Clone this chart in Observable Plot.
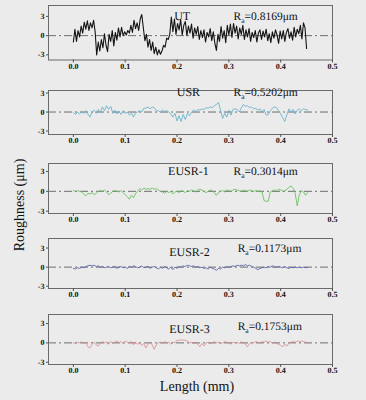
<!DOCTYPE html>
<html><head><meta charset="utf-8">
<script src="https://cdn.jsdelivr.net/npm/d3@7"></script>
<script src="https://cdn.jsdelivr.net/npm/@observablehq/plot@0.6"></script>
<style>
html,body{margin:0;padding:0;background:#ebebeb;}
#chart{position:relative;width:366px;height:400px;background:#ebebeb;font-family:"Liberation Serif","DejaVu Serif",serif;color:#111;overflow:hidden;}
.panel{position:absolute;left:0;text-rendering:geometricPrecision;-webkit-font-smoothing:antialiased;}
.panel text{fill:#111;}
.ylab{position:absolute;left:20px;top:205px;transform:translate(-50%,-50%) rotate(-90deg);font-size:14px;white-space:nowrap;}
.xlab{position:absolute;left:197px;top:387px;transform:translate(-50%,-50%);font-size:14px;white-space:nowrap;}
</style>
</head><body>
<div id="chart"></div>
<script>
// ---- data ----
const sampleNames = ["UT", "USR", "EUSR-1", "EUSR-2", "EUSR-3"];
const raValues = ["0.8169", "0.5202", "0.3014", "0.1173", "0.1753"];
const sampleSteps = [0.003, 0.004, 0.004, 0.004, 0.004]; // mm between profile samples
const xTicks = [0.0, 0.1, 0.2, 0.3, 0.4, 0.5];
const yTicks = [-3, 0, 3];

const utProfile = [
 -1.0, 1.0, -0.9, 0.8, -0.2, 1.5, 0.4, 2.1, 1.0, 2.3, 0.8, 2.0, 1.2, 2.4, 0.6,
 -3.0,
 -1.0, -2.4, -0.6, -1.9, 0.3, -1.5, -2.5, 0.2, -0.9, 0.8, -1.6, 0.5, -0.7, 1.2,
 -0.2, 1.3, 0.0, 0.6, 0.1, 0.8, 0.4,
  1.6, 0.5, 2.4, 1.1, 2.0, 0.8, 2.6, 3.3,
  1.2, -0.8, 0.2,
 -1.8, -0.6, -2.3, -1.0, -2.8, -1.8, -3.0, -2.2, -2.9, -2.4, -1.5, -1.8,
 -0.4, -0.6, 0.2,
  2.9,
  0.6, 2.6, 0.2, 1.9, 0.9, 2.5, 0.1, 1.6, 2.2, 0.0, 1.5, 0.4, 1.8, -0.4, 1.2, 0.2, 1.4,
 -0.6, 0.8, -0.3, 0.9, -1.0, 0.5, -0.2, 1.1, -0.8, 0.6, -1.2, -2.3,
  0.2, -0.9, 1.4, -0.4, 0.8, -1.1, 1.6, 0.1, 1.8, -0.3, 1.9, 0.4, 1.5,
 -0.5, 1.2, 0.2, 1.6, -0.6, 0.9, -0.2, 1.1, -0.9, 0.5,
 -0.3, 0.8, -1.0, 0.4, 0.9, -0.6, 0.7, -0.2, 1.0, -0.8,
  0.3, -1.1, 0.6, -0.4, 0.9, 0.1, -1.2, 0.7, -0.5, 0.8,
 -0.9, 0.5, 1.1, -0.4, 0.6,
 -0.7, 1.3, -0.2, 1.0, 0.3, 1.6, -0.5, 2.0, 1.2, -2.0
];
const usrProfile = [
 -0.1, -0.4, 0.0, -0.3, 0.1, -0.2, 0.2, -0.3, -0.8, 0.0,
  0.3, -0.2, 0.4, -0.1, 0.8, 0.2, 1.0, 0.4, 0.9, -0.2,
  0.3, -0.3, 0.1, -0.4, 0.2, -0.2, 0.0, -0.5, -0.2, -0.8,
 -0.1, 0.0, 0.2, 0.0, 0.6, 0.6, 0.8, 0.5, 0.8, 0.7,
  0.2, 0.2, 0.0, 0.3, 0.1, 0.2, 0.0, -0.3, -0.8, -0.2,
 -1.4, -0.6, -1.5, -0.4, -1.2, -0.2, -0.6, 0.0, 0.3, 0.1,
  0.4, 0.3, 0.5, 0.4, 0.7, 0.6, 0.8, 0.7, 1.0, 1.2,
  1.5, 0.3, -1.0, -0.2, -0.8, 0.3, -0.5, 0.4, 0.5, 0.4,
  0.0, 0.6, 1.2, 0.9, 1.0, 0.7, 0.8, 0.5, 0.6, 0.3,
  0.5, 0.0, 0.4, -0.5, -0.4, 0.2, 0.6, 0.8, 0.7, 0.2,
 -0.3, -0.9, -1.5, -0.4, 0.5, 0.0, 0.4, -0.3, 0.3, 0.5,
  0.2, 0.5, 0.4, 0.3
];
const eusr1Profile = [
  0.1, 0.0, 0.1, 0.0, -0.1, -0.4, -0.7, -0.3, -0.4, -0.2,
 -0.5, -0.3, 0.0, 0.1, 0.0, 0.2, -0.1, -0.5, -0.3, 0.0,
  0.1, 0.0, -0.1, 0.1, -0.2, -0.5, -0.8, -1.2, -0.6, -1.0,
 -0.3, 0.0, 0.4, 0.2, 0.5, 0.3, 0.4, 0.3, 0.5, 0.3,
  0.4, 0.2, 0.0, -0.1, -0.3, 0.0, -0.2, 0.0, -0.4, -0.1,
  0.0, -0.2, 0.1, 0.0, -0.2, 0.1, 0.0, 0.2, 0.1, -0.1,
  0.2, 0.3, 0.2, 0.0, -0.2, 0.0, 0.2, 0.1, -0.2, -0.6,
 -0.2, 0.0, 0.1, -0.1, 0.2, 0.1, 0.0, 0.2, 0.3, 0.2,
  0.1, 0.0, 0.2, 0.1, 0.0, 0.2, 0.1, 0.0, 0.1, 0.0,
  0.1, -0.1, -1.4, -1.5, -1.5, -0.1, 0.1, 0.2, 0.1, 0.3,
  0.2, 0.0, 0.1, 0.3, 0.6, 0.8, 0.5, -0.3, -2.2, -0.5,
  0.1, -0.1, -0.6, -0.2
];
const eusr2Profile = [
 -0.2, -0.3, -0.1, -0.2, 0.0, -0.1, 0.1, 0.2, 0.3, 0.2,
  0.3, 0.1, 0.2, 0.0, 0.1, -0.1, 0.0, 0.1, -0.1, 0.0,
  0.1, -0.2, 0.0, 0.1, -0.1, 0.0, -0.2, 0.1, 0.0, 0.2,
  0.1, -0.1, 0.0, 0.2, -0.1, 0.0, 0.1, -0.2, 0.0, 0.1,
 -0.1, -0.3, 0.0, -0.2, 0.1, -0.1, -0.3, 0.0, -0.4, 0.0,
 -0.2, 0.1, 0.0, 0.2, 0.1, 0.3, 0.2, 0.1, 0.2, 0.0,
  0.1, -0.1, 0.0, -0.2, -0.1, -0.3, 0.0, -0.2, -0.3, -0.5,
 -0.2, -0.3, 0.0, -0.1, 0.1, 0.0, 0.1, 0.2, 0.1, 0.3,
  0.2, 0.3, 0.2, 0.4, 0.2, 0.3, 0.1, 0.0, -0.2, -0.4,
 -0.2, -0.1, 0.0, -0.1, 0.1, 0.0, 0.2, 0.1, 0.0, 0.1,
  0.0, -0.1, 0.1, -0.1, -0.2, 0.0, -0.1, 0.0, -0.1, 0.0,
 -0.1, 0.0, -0.1, 0.0
];
const eusr3Profile = [
  0.0, -0.1, 0.1, 0.0, 0.2, -0.1, 0.1, -0.6, -0.8, -0.2,
  0.1, -0.3, -0.5, 0.0, 0.2, 0.0, 0.1, -0.2, 0.2, 0.0,
  0.1, 0.3, 0.0, 0.2, -0.1, 0.3, 0.1, 0.0, 0.2, -0.3,
  0.1, -0.2, 0.0, -0.4, -0.1, -0.8, -0.2, 0.1, -0.3, -1.0,
 -0.3, 0.0, 0.1, -0.1, 0.2, 0.0, 0.1, -0.2, 0.1, 0.0,
  0.4, 0.4, 0.5, 0.4, 0.4, 0.3, 0.0, 0.1, -0.1, 0.0,
 -0.2, -0.6, -0.1, -0.5, 0.0, 0.1, -0.1, 0.0, 0.2, 0.0,
  0.1, -0.1, 0.0, 0.2, 0.1, 0.0, -0.2, 0.1, 0.0, 0.1,
 -0.1, 0.2, 0.0, -0.2, -0.6, -0.1, 0.1, 0.0, 0.2, 0.1,
  0.0, 0.2, 0.1, 0.3, 0.1, 0.2, 0.0, 0.1, -0.1, -0.2,
 -0.4, -0.6, -0.2, -0.5, 0.0, 0.1, 0.2, 0.1, 0.3, 0.2,
  0.3, 0.2, 0.1, 0.0
];
const profiles = [utProfile, usrProfile, eusr1Profile, eusr2Profile, eusr3Profile];

// ---- layout / style (not data) ----
const lineColors = ["#141414", "#6bb3c9", "#6cbf63", "#5d63a8", "#d98a92"];
const lineWidths = [1.1, 0.9, 0.9, 0.9, 0.8];
const frameTops = [5, 90, 162.5, 238.3, 314];
const frameHeights = [54.5, 44, 50, 50, 50];
const yDomains = [[-3.8, 4.7], [-3.55, 3.4], [-3.35, 4.2], [-3.36, 4.5], [-3.35, 4.4]];
const nameX = [0.210, 0.222, 0.222, 0.224, 0.224];
const nameY = [3.0, 3.1, 3.0, 2.4, 2.1];
const raX = [0.309, 0.309, 0.309, 0.317, 0.317];
const raY = [3.0, 3.1, 3.0, 3.0, 2.6];

const serif = '"Liberation Serif","DejaVu Serif",serif';
const chart = document.getElementById("chart");
const mTop = 3, mBottom = 12;

profiles.forEach((prof, k) => {
  const rows = prof.map((v, i) => ({x: i * sampleSteps[k], y: v}));
  const svg = Plot.plot({
    width: 366,
    height: frameHeights[k] + mTop + mBottom,
    marginLeft: 48, marginRight: 34, marginTop: mTop, marginBottom: mBottom,
    style: {background: "transparent", fontFamily: serif, color: "#111", overflow: "visible"},
    x: {domain: [-0.048, 0.5]},
    y: {domain: yDomains[k]},
    marks: [
      Plot.ruleY([0], {stroke: "#6e6e6e", strokeWidth: 1, strokeDasharray: "8,3,2,3"}),
      Plot.line(rows, {x: "x", y: "y", stroke: lineColors[k], strokeWidth: lineWidths[k]}),
      Plot.frame({stroke: "#6a6a6a", strokeWidth: 1}),
      Plot.axisX({ticks: xTicks, tickFormat: d3.format(".1f"), tickSize: 3, tickPadding: 0,
                  fontSize: 8, fontWeight: "bold", stroke: "#555", fill: "#111", label: null}),
      Plot.axisY({ticks: yTicks, tickFormat: d => String(d), tickSize: 2, tickPadding: 2,
                  fontSize: 8, fontWeight: "bold", stroke: "#555", fill: "#111", label: null}),
      Plot.text([sampleNames[k]], {x: () => nameX[k], y: () => nameY[k], text: d => d,
                  textAnchor: "middle", fontSize: 12, fontWeight: "normal", fill: "#111"}),
      Plot.text(["Ra=" + raValues[k] + "μm"], {x: () => raX[k], y: () => raY[k], text: d => d,
                  textAnchor: "start", fontSize: 11.5, fontWeight: "normal", fill: "#111"})
    ]
  });
  // subscript "a" in Ra
  d3.select(svg).selectAll("text").each(function() {
    const t = this.textContent;
    if (t.startsWith("Ra=")) {
      const sel = d3.select(this);
      this.textContent = "";
      sel.append("tspan").text("R");
      sel.append("tspan").attr("font-size", "7.5px").attr("dy", "3").text("a");
      sel.append("tspan").attr("dy", "-3").text(t.slice(2));
    }
  });
  svg.classList.add("panel");
  svg.style.top = (frameTops[k] - mTop) + "px";
  chart.appendChild(svg);
});

const yl = document.createElement("div");
yl.className = "ylab"; yl.textContent = "Roughness (μm)";
chart.appendChild(yl);
const xl = document.createElement("div");
xl.className = "xlab"; xl.textContent = "Length (mm)";
chart.appendChild(xl);
</script>
</body></html>
